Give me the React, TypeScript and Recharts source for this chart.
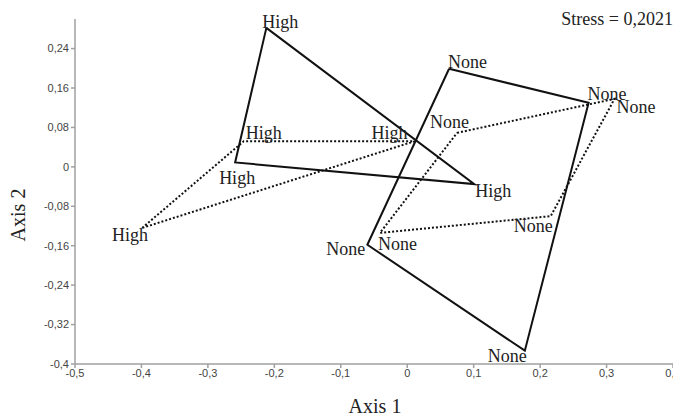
import React from "react";
import {
  ScatterChart,
  Scatter,
  XAxis,
  YAxis,
  Customized,
} from "recharts";

// NMDS ordination: group hulls (solid = one set, dotted = the other)
const highSolidX = [-0.212, 0.101, -0.259];
const highSolidY = [0.282, -0.035, 0.009];
const highDottedX = [-0.399, -0.246, 0.011];
const highDottedY = [-0.124, 0.052, 0.052];
const noneSolidX = [0.063, 0.273, 0.177, -0.06];
const noneSolidY = [0.199, 0.13, -0.373, -0.158];
const noneDottedX = [0.075, 0.312, 0.216, -0.041];
const noneDottedY = [0.069, 0.138, -0.1, -0.134];

const xTicks = [-0.5, -0.4, -0.3, -0.2, -0.1, 0, 0.1, 0.2, 0.3, 0.4];
const yTicks = [-0.4, -0.32, -0.24, -0.16, -0.08, 0, 0.08, 0.16, 0.24];
const stressText = "Stress = 0,2021";

// label placement per vertex: [dx, dy, anchor]
const highSolidLbl: [number, number, string][] = [
  [-4, 0, "start"],
  [1, 13, "start"],
  [-16, 22, "start"],
];
const highDottedLbl: [number, number, string][] = [
  [6, 13, "end"],
  [2, -2, "start"],
  [-7, -2, "end"],
];
const noneSolidLbl: [number, number, string][] = [
  [-1, -1, "start"],
  [-1, -3, "start"],
  [2, 11, "end"],
  [-2, 10, "end"],
];
const noneDottedLbl: [number, number, string][] = [
  [-27, -5, "start"],
  [2, 14, "start"],
  [2, 16, "end"],
  [-2, 17, "start"],
];

const serif = "'Liberation Serif', 'Times New Roman', serif";

const buildRing = (xs: number[], ys: number[], label: string) => {
  const pts = xs.map((x, i) => ({ x, y: ys[i], label, i }));
  return [...pts, { ...pts[0], i: xs.length }];
};

const fmt = (v: number) => String(v).replace(".", ",");

const makeShape = (offsets: [number, number, string][]) => (props: any) => {
  const p = props.payload;
  const o = offsets[p.i];
  if (!o) return <g />;
  return (
    <text
      x={props.cx + o[0]}
      y={props.cy + o[1]}
      textAnchor={o[2] as any}
      fontFamily={serif}
      fontSize={18}
      fill="#222"
    >
      {p.label}
    </text>
  );
};

const solid = { stroke: "#111", strokeWidth: 2 };
const dotted = { stroke: "#111", strokeWidth: 2, strokeDasharray: "2 2" };

const Titles = () => (
  <g fontFamily={serif} fill="#222">
    <text x={665} y={17} textAnchor="end" fontSize={18}>
      {stressText}
    </text>
    <text x={367} y={405} textAnchor="middle" fontSize={20}>
      Axis 1
    </text>
    <text
      x={17}
      y={207}
      textAnchor="middle"
      fontSize={20}
      transform="rotate(-90 17 207)"
    >
      Axis 2
    </text>
  </g>
);

const App = () => {
  const tick = { fontSize: 11, fill: "#444", fontFamily: "'Liberation Sans', Arial, sans-serif" };
  return (
    <ScatterChart
      width={673}
      height={411}
      margin={{ top: 11, right: 8, left: 17, bottom: 25 }}
      style={{ overflow: "visible" }}
    >
      <XAxis
        type="number"
        dataKey="x"
        domain={[-0.5, 0.4]}
        ticks={xTicks}
        tickFormatter={fmt}
        height={30}
        stroke="#a0a0a0"
        strokeWidth={1.5}
        tickSize={4}
        tickMargin={1}
        tick={tick}
      />
      <YAxis
        type="number"
        dataKey="y"
        domain={[-0.4, 0.3]}
        ticks={yTicks}
        tickFormatter={fmt}
        width={50}
        stroke="#a0a0a0"
        strokeWidth={1.5}
        tickSize={4}
        tickMargin={2}
        tick={tick}
      />
      <Scatter
        data={buildRing(highSolidX, highSolidY, "High")}
        line={solid}
        shape={makeShape(highSolidLbl)}
        isAnimationActive={false}
      />
      <Scatter
        data={buildRing(highDottedX, highDottedY, "High")}
        line={dotted}
        shape={makeShape(highDottedLbl)}
        isAnimationActive={false}
      />
      <Scatter
        data={buildRing(noneSolidX, noneSolidY, "None")}
        line={solid}
        shape={makeShape(noneSolidLbl)}
        isAnimationActive={false}
      />
      <Scatter
        data={buildRing(noneDottedX, noneDottedY, "None")}
        line={dotted}
        shape={makeShape(noneDottedLbl)}
        isAnimationActive={false}
      />
      <Customized component={<Titles />} />
    </ScatterChart>
  );
};

export default App;
